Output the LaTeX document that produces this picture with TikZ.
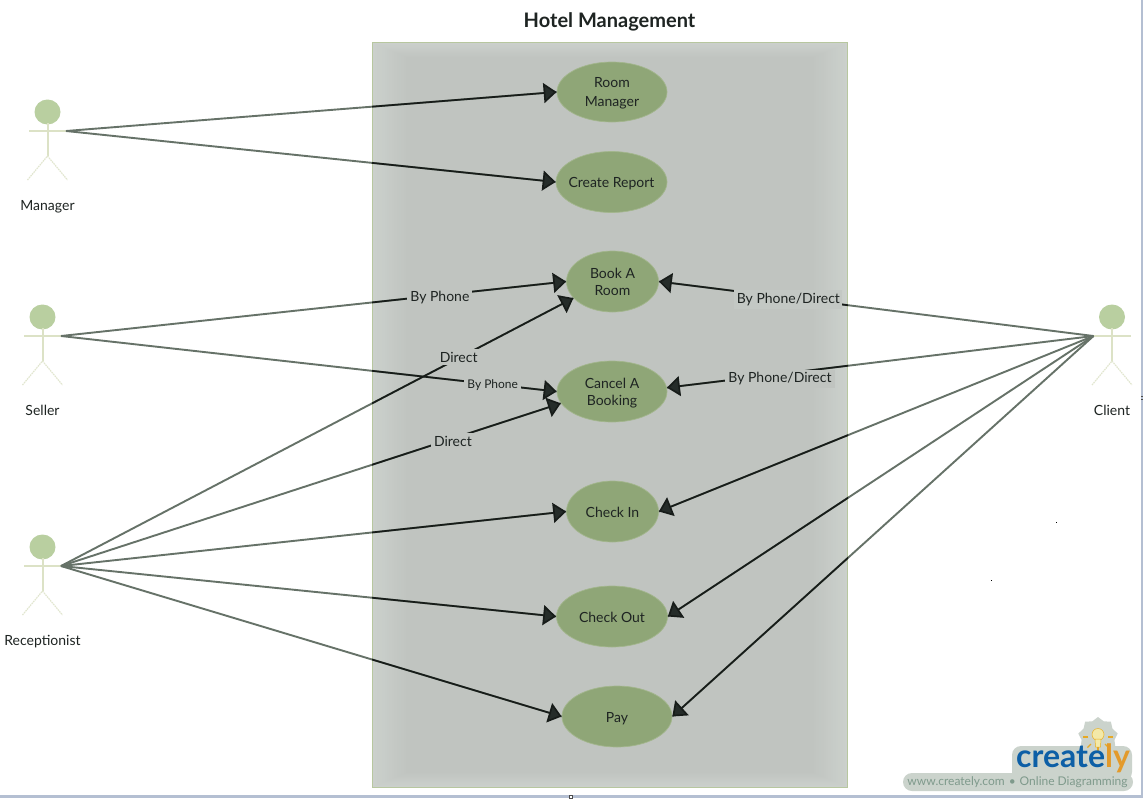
\documentclass[tikz,border=0pt]{standalone}
\usepackage{fontspec}
\setmainfont{Lato}
\usetikzlibrary{shapes.geometric,arrows.meta}
\definecolor{sysbg}{HTML}{C0C4C0}
\definecolor{sysedge}{HTML}{CBD0CC}
\definecolor{sysline}{HTML}{B7C79F}
\definecolor{ucfill}{HTML}{8FA677}
\definecolor{ucline}{HTML}{A3B68D}
\definecolor{wiregray}{HTML}{667268}
\definecolor{wiredark}{HTML}{171C19}
\definecolor{tipdark}{HTML}{252C29}
\definecolor{headc}{HTML}{B9CFA0}
\definecolor{limbc}{HTML}{DCE2C6}
\definecolor{txt}{HTML}{1E2422}
\definecolor{halo}{HTML}{CBD3CC}
\definecolor{crblue}{HTML}{0D5FA6}
\definecolor{crorange}{HTML}{E39A2B}
\definecolor{crbulb}{HTML}{F3E9A8}
\definecolor{crtext}{HTML}{7F9A8C}
\definecolor{frameband}{HTML}{B4BFD2}
\newcommand\ut[2][-1.6pt]{\raisebox{#1}[\height][\depth]{#2}}
\tikzset{
  uc/.style={ellipse,draw=ucline,fill=ucfill,line width=.7pt,inner sep=-10pt,align=center,
    text=txt,font=\fontsize{14}{17}\selectfont},
  wire/.style={draw=wiregray,line width=1.9pt},
  wireink/.style={draw=wiredark,line width=1.7pt,-{Triangle[length=13pt,width=20pt,fill=tipdark]}},
  lab/.style={fill=sysbg,inner sep=3pt,text=txt,font=\fontsize{14}{17}\selectfont},
  labsmall/.style={lab,font=\fontsize{12}{15}\selectfont,inner sep=3pt},
  actorname/.style={text=txt,font=\fontsize{14}{17}\selectfont},
  actor/.pic={
    \node[ellipse,fill=headc,minimum width=26pt,minimum height=25pt,inner sep=0pt] (-head) at (0,-19) {};
    \draw[limbc,line width=2pt] (-18.5,0) -- (18.5,0);
    \draw[limbc,line width=2pt] (0,-8) -- (0,25);
    \draw[limbc!85!white,line width=1.2pt,dash pattern=on 1.6pt off .8pt] (-20,49) -- (0,25) -- (20,49);
    \coordinate (-l) at (-18.5,0);
    \coordinate (-r) at (18.5,0);
  }
}
\begin{document}
\begin{tikzpicture}[x=1pt,y=-1pt]
\useasboundingbox (0,0) rectangle (1143,798);
\fill[white] (0,0) rectangle (1143,798);
% window frame
\fill[frameband] (1141,0) rectangle (1143,798);
\fill[frameband] (0,795) rectangle (1143,798);
% title
\node[font=\fontsize{20}{24}\selectfont\bfseries,text=txt] (title) at (609.5,22) {Hotel Management};
% system box with soft edge
\foreach \i in {0,...,14}{
  \pgfmathsetmacro{\m}{100*\i/14}
  \fill[sysbg!\m!sysedge] (372.5+2.4*\i,42.5+1.0*\i) rectangle (847.5-2.4*\i,787-1.0*\i);
}
\node[draw=sysline,line width=1pt,minimum width=475pt,minimum height=744.5pt,inner sep=0pt] (sys) at (610,414.75) {};
% use cases
\node[uc,minimum width=110pt,minimum height=60pt] (rm) at (612,92) {\ut{Room}\\[2pt]\ut{Manager}};
\node[uc,minimum width=111pt,minimum height=61pt] (cr) at (611.5,182) {\ut{Create Report}};
\node[uc,minimum width=92pt,minimum height=61pt] (bk) at (612.5,281.5) {\ut[-.7pt]{Book A}\\\ut[-.7pt]{Room}};
\node[uc,minimum width=110pt,minimum height=61pt] (cb) at (612,391.5) {\ut{Cancel A}\\\ut{Booking}};
\node[uc,minimum width=92pt,minimum height=61pt] (ci) at (612.5,511.5) {\ut[-.7pt]{Check In}};
\node[uc,minimum width=111pt,minimum height=61pt] (co) at (612,616.5) {\ut[-.7pt]{Check Out}};
\node[uc,minimum width=110pt,minimum height=61pt] (py) at (617,716.5) {\ut[-2.4pt]{Pay}};
% actors
\pic (mg) at (47.5,131) {actor};
\pic (se) at (42.5,336) {actor};
\pic (re) at (42.5,566) {actor};
\pic (cl) at (1112,336) {actor};
\node[actorname] (mgname) at (47.5,207) {Manager};
\node[actorname] (sename) at (42.5,410) {Seller};
\node[actorname] (rename) at (42.5,642) {Receptionist};
\node[actorname] (clname) at (1112,410) {Client};
% connectors: grey outside the box, dark inside it
\foreach \a/\b in {mg-r/rm.west,mg-r/cr.west,se-r/bk.west,se-r/cb.west,re-r/bk.203,re-r/cb.193,re-r/ci.west,re-r/co.west,re-r/py.west,cl-l/bk.east,cl-l/cb.4,cl-l/ci.east,cl-l/co.east,cl-l/py.east}
  \draw[wire] (\a) -- (\b);
\begin{scope}
\clip (sys.north west) rectangle (sys.south east);
\foreach \a/\b in {mg-r/rm.west,mg-r/cr.west,se-r/bk.west,se-r/cb.west,re-r/bk.203,re-r/cb.193,re-r/ci.west,re-r/co.west,re-r/py.west,cl-l/bk.east,cl-l/cb.4,cl-l/ci.east,cl-l/co.east,cl-l/py.east}
  \draw[wireink] (\a) -- (\b);
\end{scope}
% connector labels
\path (se-r) -- node[lab,pos=.75,yshift=-2pt] (l1) {By Phone} (bk.west);
\path (re-r) -- node[lab,pos=.776,yshift=1pt] (l2) {Direct} (bk.203);
\path (se-r) -- node[labsmall,pos=.871,yshift=-1pt] (l3) {By Phone} (cb.west);
\path (re-r) -- node[lab,pos=.784,yshift=-3pt] (l4) {Direct} (cb.193);
\path (cl-l) -- node[lab,pos=.702,yshift=-2pt,fill=sysbg!70!sysedge,inner xsep=2.5pt] (l5) {By Phone/Direct} (bk.east);
\path (cl-l) -- node[lab,pos=.735,yshift=-5pt] (l6) {By Phone/Direct} (cb.4);
% stray specks
\fill[black] (1055.5,521.5) rectangle (1057,523);
\fill[black] (990.5,579.5) rectangle (992,581);
\fill[white,draw=black!70,line width=.5pt] (569,795) rectangle (572,798);
\draw[black!70,line width=.5pt] (1141,396) -- (1143,396) (1141,399) -- (1143,399);
% logo
\fill[halo,rounded corners=9pt] (903,773) rectangle (1133,791);
\fill[halo,rounded corners=9pt] (1012,746) rectangle (1132,781);
\node[star,star points=9,star point ratio=1.2,fill=halo,minimum size=40pt,inner sep=0pt] (haloburst) at (1098,737) {};
\fill[crbulb,draw=crorange!80!yellow,line width=.5pt] (1098,734.5) circle (6pt);
\fill[crbulb,draw=crorange!80!yellow,line width=.5pt] (1095,739) -- (1101,739) -- (1100.5,747) -- (1095.5,747) -- cycle;
\foreach \ang in {180,-135,-90,-45,0}
  \draw[crorange!85!yellow,line width=1.1pt] (1098,737) ++(\ang:10pt) -- ++(\ang:5pt);
\node[inner sep=0pt,anchor=base west,font=\fontsize{32}{32}\selectfont\bfseries] (logo) at (1016,767) {\textcolor{crblue}{create}\textcolor{crorange}{ly}};
\node[inner sep=0pt,anchor=center,text=crtext,font=\fontsize{12}{15}\selectfont] (logotext) at (1017.5,782) {www.creately.com\,\,•\,\,Online Diagramming};
\end{tikzpicture}
\end{document}
